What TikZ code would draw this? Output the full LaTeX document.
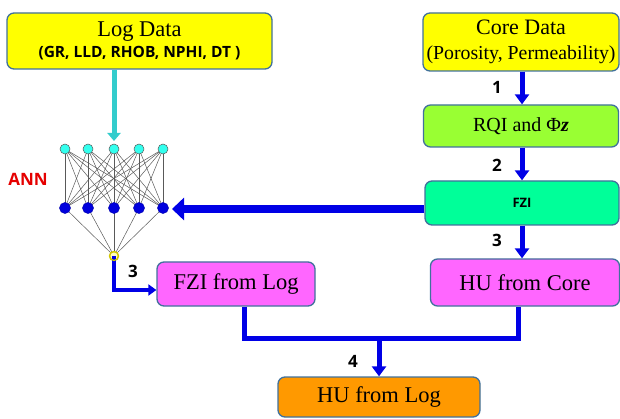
\documentclass[tikz,border=0pt]{standalone}
\usepackage{fontspec}
\setmainfont{Liberation Serif}
\newfontfamily\lblfont{Open Sans}
\usetikzlibrary{arrows.meta}
\definecolor{bordc}{HTML}{41719C}
\definecolor{yel}{HTML}{FFFF00}
\definecolor{lime}{HTML}{99FF33}
\definecolor{spring}{HTML}{00FF99}
\definecolor{magn}{HTML}{FF66FF}
\definecolor{orng}{HTML}{FF9900}
\definecolor{arrblue}{HTML}{0000E6}
\definecolor{cyanarr}{HTML}{33CCCC}
\definecolor{inpc}{HTML}{33FFEE}
\definecolor{hidc}{HTML}{0000DD}
\tikzset{
  box/.style={draw=bordc, line width=1.3pt, rounded corners=7pt, align=center, inner sep=1pt},
  numlbl/.style={font=\lblfont\bfseries\fontsize{17}{17}\selectfont},
  bigarr/.style={draw=arrblue, line width=5pt, -{Triangle[width=14pt,length=10pt]}},
  bigline/.style={draw=arrblue, line width=5pt},
  inpn/.style={circle, draw=gray!70!black, fill=inpc, minimum size=10pt, inner sep=0pt, line width=0.5pt},
  hidn/.style={circle, draw=hidc!80!black, fill=hidc, minimum size=11pt, inner sep=0pt, line width=0.5pt},
  outn/.style={circle, draw=yellow!60!olive, fill=yellow!25, line width=1.2pt, minimum size=9pt, inner sep=0pt},
  annline/.style={draw=gray!70!black, line width=0.5pt}
}
\begin{document}
\begin{tikzpicture}[x=1pt,y=-1pt]
\useasboundingbox (0,0) rectangle (620,419);
% boxes
\node[box, fill=yel, minimum width=265pt, minimum height=56pt] (log) at (139.5,41)
  {\fontsize{22.5}{24}\selectfont Log Data\\[4pt]{\lblfont\bfseries\fontsize{15.5}{17}\selectfont (GR, LLD, RHOB, NPHI, DT )}};
\node[box, fill=yel, minimum width=196pt, minimum height=58pt] (core) at (521,42)
  {\fontsize{22}{24}\selectfont Core Data\\[10pt]\fontsize{19.8}{22}\selectfont (Porosity, Permeability)};
\node[box, fill=lime, minimum width=195pt, minimum height=42pt] (rqi) at (521,126)
  {\fontsize{20}{22}\selectfont RQI and Φ\textbf{\textit{z}}};
\node[box, fill=spring, minimum width=194pt, minimum height=44pt] (fzi) at (522,203)
  {\lblfont\bfseries\fontsize{13}{15}\selectfont FZI};
\node[box, fill=magn, minimum width=189pt, minimum height=47pt] (huc) at (525,282.5)
  {\fontsize{22.5}{24}\selectfont HU from Core};
\node[box, fill=magn, minimum width=158pt, minimum height=44pt] (fzil) at (236,284)
  {\fontsize{22.5}{24}\selectfont FZI from Log};
\node[box, fill=orng, minimum width=202pt, minimum height=40pt] (hul) at (379,397)
  {\fontsize{22.5}{24}\selectfont HU from Log};
% ANN
\foreach \i/\x in {1/65,2/88,3/114,4/139,5/163}{
  \coordinate (i\i) at (\x,149);
  \coordinate (h\i) at (\x,208);
}
\coordinate (outc) at (114,256);
\foreach \a in {1,...,5}{
  \foreach \b in {1,...,5}{
    \draw[annline] (i\a) -- (h\b);
  }
  \draw[annline] (h\a) -- (outc);
}
\foreach \i in {1,...,5}{
  \node[inpn] (in\i) at (i\i) {};
  \node[hidn] (hn\i) at (h\i) {};
}
\node[outn] (out) at (outc) {};
\node[font=\lblfont\bfseries\fontsize{17}{17}\selectfont, text=red!90!black] (ann) at (28,179) {ANN};
% cyan arrow
\coordinate (cyend) at (114,141);
\draw[draw=cyanarr, line width=5pt, -{Triangle[width=13pt,length=8pt]}] (log.south -| cyend) -- (cyend);
% core chain
\coordinate (cx) at (522,0);
\draw[bigarr] (core.south -| cx) -- (rqi.north -| cx);
\draw[bigarr] (rqi.south -| cx) -- (fzi.north -| cx);
\draw[bigarr] (fzi.south -| cx) -- (huc.north -| cx);
\node[numlbl] (n1) at (497,87) {1};
\node[numlbl] (n2) at (497,165) {2};
\node[numlbl] (n3) at (497,240) {3};
% FZI to ANN
\coordinate (annin) at (172,209);
\draw[draw=arrblue, line width=8pt, -{Triangle[width=22pt,length=12pt]}] (fzi.west |- annin) -- (annin);
% ANN output to FZI from Log
\coordinate (outcorner) at (114,290);
\draw[draw=arrblue, line width=4.5pt, -{Triangle[width=11pt,length=8pt]}] (outc) -- (outcorner) -- (fzil.west |- outcorner);
\node[outn, fill=none] at (outc) {};
\node[numlbl] (n3b) at (133,271) {3};
% merge to HU from Log
\coordinate (ml) at (244,338);
\coordinate (mr) at (518,338);
\coordinate (mm) at (379,338);
\draw[bigline] (fzil.south -| ml) -- (ml) -- (mr) -- (huc.south -| mr);
\draw[bigarr] (mm) -- (hul.north);
\node[numlbl] (n4) at (353,361) {4};
\end{tikzpicture}
\end{document}
